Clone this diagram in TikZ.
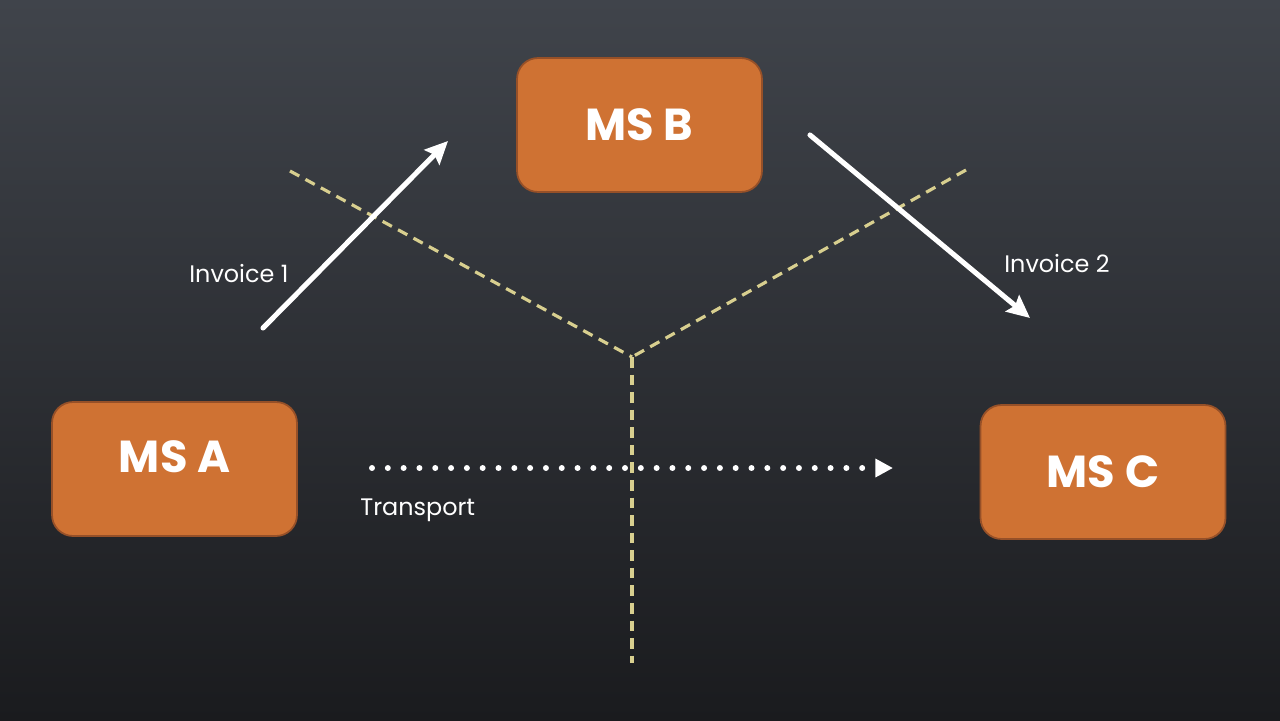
\documentclass[tikz,border=0pt]{standalone}
\usepackage{fontspec}
\setmainfont{Poppins}
\usetikzlibrary{arrows.meta}
\definecolor{boxfill}{RGB}{207,114,51}
\definecolor{boxedge}{RGB}{150,80,40}
\definecolor{dashcol}{RGB}{216,207,143}
\definecolor{bgtop}{RGB}{64,68,75}
\definecolor{bgbot}{RGB}{26,27,30}
\tikzset{
  msbox/.style={draw=boxedge, line width=1pt, fill=boxfill, rounded corners=0.42cm,
    minimum width=4.9cm, minimum height=2.68cm, inner sep=0pt},
  mstext/.style={text=white, font=\fontsize{25.5}{30}\selectfont\bfseries},
  lbl/.style={text=white, font=\fontsize{13.6}{16}\selectfont, inner sep=0pt},
  flow/.style={draw=white, line width=2.9pt, line cap=round,
    -{Stealth[length=13pt,width=12pt,inset=2pt]}},
  transport/.style={draw=white, line width=3.4pt, line cap=round,
    dash pattern=on 0pt off 9pt, -{Triangle[length=10pt,width=10pt]}},
  divider/.style={draw=dashcol, line width=1.8pt, dash pattern=on 6pt off 4pt}
}
\begin{document}
\begin{tikzpicture}[x=0.02cm,y=-0.02cm]
\useasboundingbox (0,0) rectangle (1280,720);
\shade[top color=bgtop, bottom color=bgbot] (0,0) rectangle (1280,720);

% dividers
\coordinate (dl) at (290,171);
\coordinate (dr) at (966,170);
\coordinate (dc) at (632,357);
\coordinate (db) at (632,663);
\draw[divider] (dl) -- (dc);
\draw[divider] (dr) -- (dc);
\draw[divider] (dc) -- (db);

% boxes
\node[msbox, mstext] (b) at (639.5,125) {MS B};
\node[msbox, label={[mstext, yshift=0.24cm]center:MS A}] (a) at (174.5,469) {};
\node[msbox, mstext] (c) at (1103,472) {MS C};

% arrows
\coordinate (i1s) at (263,328);
\coordinate (i1e) at (448,141);
\coordinate (i2s) at (810,135);
\coordinate (i2e) at (1030,318);
\coordinate (ts) at (372,468);
\coordinate (te) at (893,468);
\draw[flow] (i1s) -- (i1e);
\draw[flow] (i2s) -- (i2e);
\draw[transport] (ts) -- (te);

% labels
\node[lbl, anchor=west] (l1) at (189,274) {Invoice 1};
\node[lbl, anchor=west] (l2) at (1004,264) {Invoice 2};
\node[lbl, anchor=west] (l3) at (360,510) {Transport};
\end{tikzpicture}
\end{document}
